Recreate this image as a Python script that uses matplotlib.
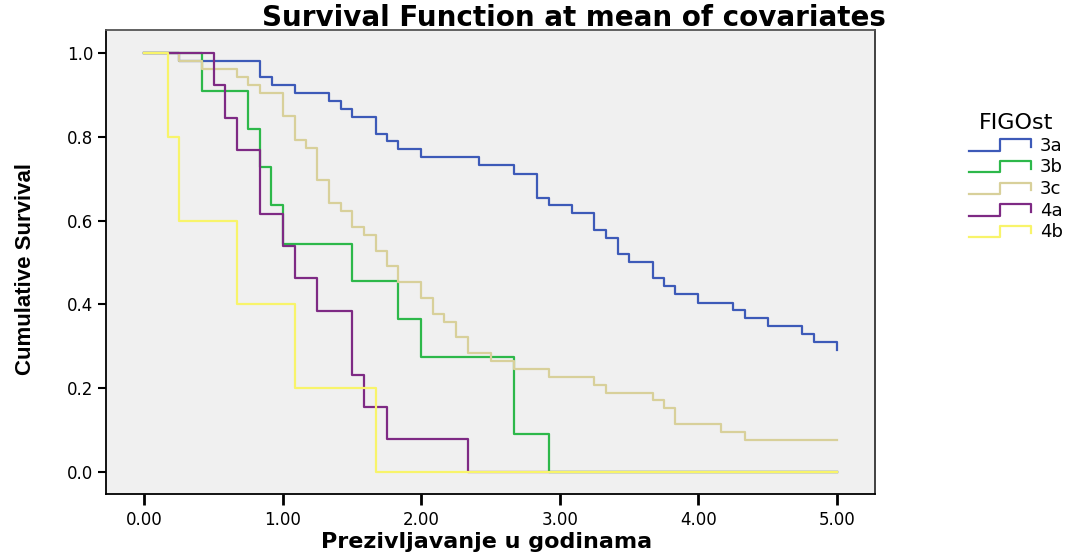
import matplotlib
matplotlib.use("Agg")
import matplotlib.pyplot as plt
from matplotlib.lines import Line2D
from matplotlib.legend_handler import HandlerBase

# Kaplan-Meier style survival curves per FIGO stage (time in years)
groups = ["3a", "3b", "3c", "4a", "4b"]

t_3a = [0, 0.25, 0.835, 0.92, 1.085, 1.335, 1.42, 1.50, 1.67, 1.75, 1.835, 2.0, 2.42, 2.67,
        2.835, 2.92, 3.085, 3.25, 3.335, 3.42, 3.50, 3.67, 3.75, 3.835, 4.0, 4.25, 4.335,
        4.50, 4.75, 4.835, 5.0]
s_3a = [1.0, 0.981, 0.943, 0.924, 0.905, 0.886, 0.866, 0.847, 0.808, 0.789, 0.770, 0.751,
        0.732, 0.712, 0.655, 0.636, 0.617, 0.578, 0.558, 0.520, 0.501, 0.463, 0.443, 0.424,
        0.404, 0.386, 0.366, 0.347, 0.328, 0.309, 0.290]

t_3b = [0, 0.415, 0.75, 0.835, 0.915, 1.0, 1.50, 1.835, 2.0, 2.67, 2.92, 5.0]
s_3b = [1.0, 0.909, 0.818, 0.727, 0.636, 0.545, 0.455, 0.364, 0.273, 0.091, 0.0, 0.0]

t_3c = [0, 0.25, 0.415, 0.667, 0.75, 0.835, 1.0, 1.085, 1.165, 1.25, 1.335, 1.42, 1.50,
        1.585, 1.67, 1.75, 1.835, 2.0, 2.085, 2.165, 2.25, 2.335, 2.50, 2.67, 2.92, 3.25,
        3.335, 3.67, 3.75, 3.835, 4.165, 4.335, 5.0]
s_3c = [1.0, 0.981, 0.962, 0.943, 0.925, 0.906, 0.849, 0.793, 0.774, 0.698, 0.642, 0.623,
        0.585, 0.566, 0.528, 0.491, 0.453, 0.415, 0.377, 0.358, 0.321, 0.283, 0.264, 0.245,
        0.226, 0.207, 0.189, 0.170, 0.151, 0.113, 0.094, 0.075, 0.075]

t_4a = [0, 0.5, 0.585, 0.667, 0.835, 1.0, 1.085, 1.25, 1.50, 1.585, 1.75, 2.335, 5.0]
s_4a = [1.0, 0.923, 0.846, 0.769, 0.615, 0.538, 0.462, 0.385, 0.231, 0.154, 0.077, 0.0, 0.0]

t_4b = [0, 0.167, 0.25, 0.667, 1.085, 1.67, 5.0]
s_4b = [1.0, 0.8, 0.6, 0.4, 0.2, 0.0, 0.0]

times = [t_3a, t_3b, t_3c, t_4a, t_4b]
surv = [s_3a, s_3b, s_3c, s_4a, s_4b]
colors = ["#3d5ab8", "#2db84a", "#d8d09a", "#7e2a84", "#f8f46a"]

x_ticks = [0, 1, 2, 3, 4, 5]
y_ticks = [0.0, 0.2, 0.4, 0.6, 0.8, 1.0]


class StepHandler(HandlerBase):
    # legend glyph shaped like a small step
    def create_artists(self, legend, orig_handle, xdescent, ydescent, width, height, fontsize, trans):
        x0, w = -xdescent, width
        y0, h = -ydescent, height
        xs = [x0, x0 + 0.5 * w, x0 + 0.5 * w, x0 + w, x0 + w]
        ys = [y0, y0, y0 + 0.9 * h, y0 + 0.9 * h, y0 + 0.3 * h]
        ln = Line2D(xs, ys, color=orig_handle.get_color(), lw=orig_handle.get_linewidth(),
                    transform=trans)
        return [ln]


fig = plt.figure(figsize=(10.72, 5.54), dpi=100)
ax = fig.add_axes([0.0989, 0.108, 0.7173, 0.8375])
ax.set_facecolor("#f0f0f0")

handles = []
for t, s, c, g in zip(times, surv, colors, groups):
    ln, = ax.step(t, s, where="post", color=c, lw=1.6, label=g)
    handles.append(ln)

ax.set_xlim(-0.277, 5.276)
ax.set_ylim(-0.054, 1.055)
ax.set_xticks(x_ticks)
ax.set_xticklabels(["%.2f" % v for v in x_ticks])
ax.set_yticks(y_ticks)
ax.set_yticklabels(["%.1f" % v for v in y_ticks])
ax.tick_params(axis="x", length=8, width=2, labelsize=12, pad=4)
ax.tick_params(axis="y", length=6, width=1.5, labelsize=12, pad=3)
for sp in ax.spines.values():
    sp.set_linewidth(1.3)
    sp.set_color("black")
ax.spines["top"].set_color("#555555")
ax.spines["right"].set_color("#333333")

fig.text(0.454, 0.003, "Prezivljavanje u godinama", ha="center", va="bottom",
         fontsize=16, fontweight="bold")
fig.text(0.024, 0.515, "Cumulative Survival", ha="center", va="center", rotation=90,
         fontsize=16, fontweight="bold",
         family=["Liberation Sans Narrow", "DejaVu Sans Condensed", "Liberation Sans"])
fig.text(0.535, 0.967, "Survival Function at mean of covariates", ha="center", va="center",
         fontsize=20, fontweight="bold")

leg = fig.legend(handles=handles, labels=groups, handler_map={Line2D: StepHandler()},
                 loc="upper left", bbox_to_anchor=(0.889, 0.825), frameon=False,
                 fontsize=13, title="FIGOst", title_fontsize=16, handlelength=3.4,
                 labelspacing=0.2, handletextpad=0.5, alignment="center")

fig.savefig("out.png", dpi=100)
